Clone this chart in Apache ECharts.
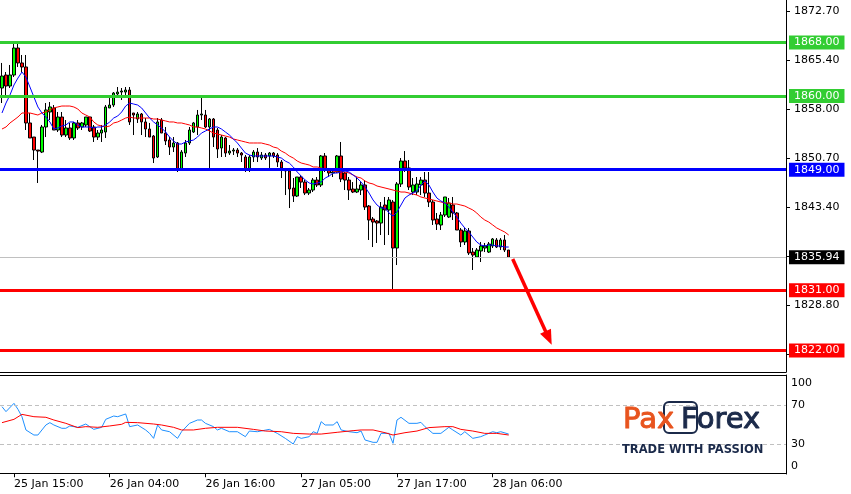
<!DOCTYPE html>
<html><head><meta charset="utf-8">
<script src="https://cdn.jsdelivr.net/npm/echarts@6/dist/echarts.min.js"></script>
<style>html,body{margin:0;padding:0;background:#fff}#c{width:851px;height:494px}</style>
</head><body><div id="c"></div>
<script>
// ---- data: [open, close, low, high] per bar ----
const candles = [
[1861.20,1862.99,1858.96,1864.94],[1863.14,1861.50,1859.71,1863.59],[1861.50,1863.14,1861.20,1864.64],[1863.14,1867.17,1862.84,1867.77],
[1867.17,1864.94,1864.34,1867.77],[1864.94,1864.34,1863.59,1866.13],[1864.34,1855.98,1854.93,1866.13],[1855.98,1853.74,1853.74,1857.47],
[1853.88,1851.94,1850.45,1853.88],[1851.94,1851.79,1847.02,1851.94],[1851.64,1855.38,1851.49,1855.68],[1855.38,1857.92,1853.88,1858.96],
[1857.62,1858.37,1856.42,1859.11],[1858.22,1854.93,1854.93,1858.66],[1854.93,1856.87,1854.63,1857.62],[1856.87,1854.18,1853.88,1857.62],
[1854.18,1855.23,1853.88,1856.42],[1855.23,1853.74,1853.44,1855.98],[1853.74,1855.98,1853.44,1856.13],[1855.98,1855.23,1854.93,1856.42],
[1855.38,1855.98,1854.93,1856.13],[1855.68,1856.87,1855.38,1856.87],[1856.87,1854.78,1854.63,1856.87],[1855.38,1853.88,1853.14,1855.68],
[1853.88,1854.48,1853.44,1854.93],[1854.48,1854.93,1853.14,1855.68],[1854.63,1858.37,1853.74,1858.66],[1858.22,1858.66,1858.22,1859.71],
[1858.66,1860.45,1858.37,1860.60],[1860.31,1860.60,1859.86,1861.35],[1860.60,1860.75,1859.41,1861.20],[1860.60,1860.90,1860.16,1861.35],
[1860.90,1856.13,1855.68,1861.35],[1857.47,1857.17,1854.18,1857.47],[1856.57,1857.32,1855.98,1857.62],[1857.32,1856.13,1854.18,1857.47],
[1856.13,1855.08,1853.88,1856.72],[1855.08,1853.88,1853.88,1855.98],[1854.03,1850.75,1850.00,1854.18],[1850.90,1856.13,1850.75,1856.72],
[1856.42,1854.48,1854.48,1856.72],[1854.48,1853.29,1852.69,1855.38],[1853.44,1852.39,1851.20,1853.88],[1852.39,1852.99,1851.64,1853.88],
[1852.99,1849.11,1848.66,1853.14],[1849.11,1851.64,1848.96,1851.94],[1851.49,1852.99,1850.90,1853.44],[1852.99,1854.93,1852.69,1855.38],
[1854.63,1855.98,1854.48,1856.13],[1855.38,1857.17,1854.18,1857.92],[1857.17,1857.32,1856.42,1859.86],[1857.17,1855.38,1855.23,1857.92],
[1855.38,1856.57,1849.26,1856.72],[1856.57,1853.88,1852.39,1856.72],[1854.93,1852.09,1850.75,1855.23],[1852.24,1853.88,1850.90,1854.18],
[1853.74,1851.49,1850.90,1853.88],[1851.49,1851.79,1851.20,1852.69],[1851.79,1851.94,1851.20,1852.24],[1851.94,1851.49,1850.90,1852.24],
[1851.49,1851.20,1850.15,1851.64],[1850.90,1848.96,1848.66,1851.20],[1848.96,1850.90,1848.66,1851.20],[1850.90,1851.64,1850.15,1851.94],
[1851.64,1850.90,1850.15,1852.24],[1850.75,1851.20,1850.45,1851.64],[1851.20,1850.75,1850.45,1851.49],[1851.05,1851.49,1849.26,1851.64],
[1851.49,1851.05,1850.75,1851.64],[1851.20,1850.15,1849.41,1851.49],[1850.15,1849.26,1847.76,1850.45],[1848.96,1848.81,1845.22,1849.26],
[1848.81,1846.12,1843.28,1849.26],[1846.27,1845.07,1844.18,1847.76],[1845.07,1847.91,1844.93,1847.91],[1847.91,1847.16,1846.27,1848.21],
[1847.16,1845.52,1845.22,1847.46],[1845.52,1845.97,1845.22,1846.27],[1845.97,1847.46,1845.67,1847.76],[1847.46,1846.72,1846.42,1847.91],
[1846.72,1851.05,1846.42,1851.20],[1851.05,1848.96,1848.66,1851.49],[1848.96,1848.51,1847.91,1849.26],[1848.51,1848.66,1847.91,1848.96],
[1848.66,1851.05,1848.51,1851.20],[1851.05,1847.61,1847.16,1853.14],[1848.51,1847.46,1845.97,1848.66],[1847.46,1845.97,1844.48,1847.91],
[1846.12,1845.67,1845.52,1847.16],[1845.67,1846.12,1845.52,1847.91],[1845.97,1846.72,1845.22,1847.16],[1846.72,1843.43,1842.99,1847.46],
[1843.58,1841.49,1838.51,1843.73],[1841.64,1841.19,1837.46,1841.94],[1841.34,1841.04,1838.06,1841.49],[1841.04,1843.43,1839.25,1844.18],
[1843.73,1842.99,1837.76,1844.93],[1842.99,1844.48,1839.25,1844.93],[1844.18,1837.31,1831.04,1844.48],[1837.31,1846.87,1834.77,1847.16],
[1846.87,1850.30,1846.42,1850.75],[1850.30,1849.26,1848.66,1851.79],[1849.26,1846.42,1845.97,1850.45],[1845.67,1846.72,1845.22,1847.76],
[1845.67,1846.87,1845.22,1847.91],[1846.72,1847.46,1845.22,1847.91],[1847.46,1845.52,1844.93,1848.66],[1845.52,1844.18,1843.43,1848.66],
[1844.18,1841.49,1840.75,1844.48],[1841.64,1840.89,1840.00,1842.54],[1840.75,1842.24,1840.00,1842.69],[1842.24,1844.93,1841.94,1844.93],
[1841.94,1844.03,1841.79,1844.78],[1843.73,1842.54,1841.49,1844.93],[1842.54,1840.00,1840.00,1842.69],[1840.00,1838.21,1837.46,1840.30],
[1838.21,1839.85,1837.76,1840.30],[1839.85,1836.57,1836.27,1840.30],[1836.71,1836.27,1834.03,1837.31],[1835.97,1837.01,1835.97,1837.31],
[1836.87,1837.61,1835.22,1838.21],[1837.31,1837.61,1836.71,1838.06],[1836.71,1837.91,1836.57,1838.21],[1837.61,1838.66,1837.31,1838.80],
[1838.51,1837.46,1837.31,1838.80],[1837.46,1838.51,1837.01,1838.80],[1838.51,1837.01,1836.71,1839.25],[1837.01,1835.94,1835.94,1837.01]
];
const maFast = [1857.47,1858.96,1860.16,1861.65,1862.69,1863.59,1862.84,1861.35,1859.86,1858.37,
1857.47,1856.87,1856.13,1855.08,1855.23,1855.53,1855.68,1856.13,1856.13,1855.68,
1855.38,1855.38,1855.38,1855.23,1855.38,1855.38,1855.68,1856.13,1856.72,1857.02,
1857.62,1858.51,1858.96,1858.81,1858.66,1858.22,1857.47,1856.72,1856.13,1855.68,
1855.23,1854.63,1853.88,1853.29,1852.84,1852.84,1853.14,1853.29,1853.44,1853.88,
1854.48,1854.78,1855.08,1855.38,1855.38,1855.08,1854.63,1854.18,1853.59,1852.99,
1852.24,1851.49,1851.20,1851.05,1851.05,1851.05,1851.05,1851.05,1851.05,1850.90,
1850.75,1850.30,1850.00,1849.41,1848.66,1848.06,1847.46,1847.02,1846.87,1847.02,
1847.16,1847.76,1848.06,1848.51,1848.51,1848.66,1848.81,1848.66,1848.21,1847.76,
1847.16,1846.42,1845.52,1844.48,1843.73,1843.28,1843.28,1842.54,1842.09,1842.69,
1843.73,1844.78,1845.22,1845.52,1845.82,1846.72,1847.31,1846.72,1845.67,1844.78,
1844.33,1844.03,1843.43,1842.69,1841.94,1841.04,1840.30,1839.70,1838.95,1838.21,
1837.76,1837.61,1837.76,1837.76,1837.61,1837.61,1837.46,1837.46];
const maSlow = [1855.08,1855.38,1855.98,1856.42,1856.87,1857.47,1857.47,1857.47,1857.32,1857.17,
1857.47,1857.62,1857.92,1858.22,1858.37,1858.51,1858.51,1858.51,1858.37,1858.07,
1857.47,1857.17,1856.87,1856.13,1855.68,1855.53,1855.38,1855.53,1855.98,1856.13,
1856.42,1856.72,1856.87,1856.72,1856.72,1856.72,1856.72,1856.72,1856.57,1856.57,
1856.42,1856.28,1856.13,1856.13,1855.98,1855.98,1855.83,1855.68,1855.38,1855.38,
1855.23,1855.08,1854.78,1854.48,1854.33,1854.18,1854.03,1853.88,1853.59,1853.44,
1853.29,1853.14,1852.99,1852.99,1852.99,1852.99,1852.84,1852.69,1852.39,1852.24,
1851.79,1851.49,1851.05,1850.75,1850.30,1850.00,1849.85,1849.70,1849.41,1849.41,
1849.26,1849.11,1848.96,1848.81,1848.66,1848.66,1848.66,1848.51,1848.21,1847.91,
1847.76,1847.31,1847.02,1846.87,1846.57,1846.42,1846.27,1846.12,1845.97,1845.82,
1845.67,1845.67,1845.52,1845.37,1845.22,1844.93,1844.78,1844.63,1844.48,1844.33,
1844.18,1844.03,1844.03,1843.88,1843.88,1843.73,1843.58,1843.28,1842.99,1842.54,
1841.94,1841.49,1841.19,1840.75,1840.30,1840.00,1839.70,1839.25];
// oscillator readings: [bar index, value]
const oscMain = [[0,68.3],[1,63.2],[3,71.7],[4,65.6],[5,58.0],[6,44.4],[8,39.2],[9,39.2],[11,49.5],[12,51.9],[13,49.5],[15,46.1],[16,46.1],[17,48.5],[19,47.1],[21,50.5],[23,45.0],[25,47.1],[26,55.3],[28,58.7],[29,58.0],[31,60.8],[32,47.8],[34,49.5],[36,44.4],[37,40.9],[38,35.8],[39,49.5],[40,44.4],[42,42.6],[44,35.8],[45,42.6],[47,51.2],[49,54.6],[50,54.6],[51,51.2],[53,47.8],[54,44.4],[55,46.1],[57,42.6],[59,42.6],[61,37.5],[62,43.3],[64,42.6],[67,45.0],[69,40.9],[71,35.8],[73,30.0],[74,37.5],[75,35.8],[77,37.5],[78,42.6],[79,40.9],[80,52.9],[81,49.5],[83,49.5],[84,52.9],[85,44.4],[87,42.6],[89,41.6],[90,43.3],[91,34.1],[93,31.7],[94,31.7],[95,40.9],[97,40.9],[98,30.7],[99,54.6],[100,57.4],[102,51.2],[104,51.2],[105,52.2],[106,47.8],[108,40.9],[110,40.9],[112,47.1],[113,44.4],[115,39.2],[116,42.6],[118,35.8],[120,37.5],[121,39.2],[123,42.6],[124,41.6],[125,42.6],[127,40.2]];
const oscSignal = [[0,51.9],[3,55.3],[5,60.4],[8,58.0],[11,57.4],[13,54.6],[16,51.2],[19,46.8],[21,47.8],[24,47.1],[27,48.5],[30,50.2],[31,52.2],[34,51.9],[38,50.5],[40,49.5],[43,47.1],[45,44.4],[48,44.4],[51,46.1],[54,47.1],[59,47.1],[63,45.0],[66,43.3],[70,42.6],[73,40.9],[77,40.2],[80,40.2],[84,42.0],[88,43.7],[90,44.4],[93,44.4],[96,41.6],[98,39.2],[101,41.6],[104,43.3],[107,46.8],[111,47.8],[113,47.8],[115,45.0],[118,43.3],[121,40.9],[124,40.9],[127,39.2]];
const timeTickIndex = [3,27,51,75,99,123];
const timeTickLabels = ['25 Jan 15:00','26 Jan 04:00','26 Jan 16:00','27 Jan 05:00','27 Jan 17:00','28 Jan 06:00'];
const priceTicks = [1872.70,1865.40,1858.00,1850.70,1843.40,1836.10,1828.80,1821.50];
const levelValues = [1868.00,1860.00,1849.00,1831.00,1822.00];
const levelColors = ['#32cd32','#32cd32','#0000ff','#ff0000','#ff0000'];
const lastPrice = 1835.94;
const arrowFrom = [128,1835.67];
const arrowTo = [137,1823.87];
const oscTicks = [0,30,70,100];
const oscLevels = [30,70];
const barSlots = 197;

const FONT = 'DejaVu Sans';
const cats = Array.from({length: barSlots}, (_, i) => String(i));
const tickSet = new Set(timeTickIndex);
const tickFn = (idx) => tickSet.has(idx);

const levelLines = levelValues.map((v, i) => ({
  yAxis: v,
  lineStyle: {color: levelColors[i], width: 3, type: 'solid'},
  label: {backgroundColor: levelColors[i]}
}));
levelLines.push({yAxis: lastPrice, lineStyle: {color: '#c0c0c0', width: 1, type: 'solid'}, label: {backgroundColor: '#000'}});

const chart = echarts.init(document.getElementById('c'), null, {renderer: 'canvas'});
chart.setOption({
  animation: false,
  backgroundColor: '#fff',
  textStyle: {fontFamily: FONT},
  grid: [
    {left: -2, top: 0, width: 788, height: 372},
    {left: -2, top: 375, width: 788, height: 99}
  ],
  xAxis: [
    {type: 'category', gridIndex: 0, data: cats, boundaryGap: true,
     axisLine: {lineStyle: {color: '#000', width: 1}}, axisTick: {show: false}, axisLabel: {show: false}, splitLine: {show: false}},
    {type: 'category', gridIndex: 1, data: cats, boundaryGap: true, position: 'bottom',
     axisLine: {lineStyle: {color: '#000', width: 1}},
     axisTick: {show: true, alignWithLabel: true, interval: tickFn, length: 4, lineStyle: {color: '#000'}},
     axisLabel: {interval: tickFn, align: 'left', margin: 5, color: '#000', fontFamily: FONT, fontSize: 11,
       formatter: (v) => timeTickLabels[timeTickIndex.indexOf(Number(v))] || ''},
     splitLine: {show: false}},
    {type: 'category', gridIndex: 1, data: cats, boundaryGap: true, position: 'top',
     axisLine: {lineStyle: {color: '#000', width: 1}}, axisTick: {show: false}, axisLabel: {show: false}, splitLine: {show: false}}
  ],
  yAxis: [
    {type: 'value', gridIndex: 0, position: 'right', min: 1818.80, max: 1874.34, scale: true,
     axisLine: {show: true, lineStyle: {color: '#000'}},
     axisTick: {show: true, length: 4, customValues: priceTicks, lineStyle: {color: '#000'}},
     axisLabel: {customValues: priceTicks, formatter: (v) => Number(v).toFixed(2), margin: 8, color: '#000', fontFamily: FONT, fontSize: 11},
     splitLine: {show: false}},
    {type: 'value', gridIndex: 1, position: 'right', min: -0.77, max: 100.77,
     axisLine: {show: true, lineStyle: {color: '#000'}},
     axisTick: {show: false},
     axisLabel: {customValues: oscTicks, margin: 5, color: '#000', fontFamily: FONT, fontSize: 11,
       formatter: (v) => v === 100 ? '{a|100}' : (v === 0 ? '{b|0}' : String(v)),
       rich: {a: {padding: [14, 0, 0, 0], fontFamily: FONT, fontSize: 11, color: '#000'},
              b: {padding: [0, 0, 14, 0], fontFamily: FONT, fontSize: 11, color: '#000'}}},
     splitLine: {show: false}}
  ],
  series: [
    {type: 'candlestick', xAxisIndex: 0, yAxisIndex: 0, data: candles, barWidth: 3, z: 2,
     itemStyle: {color: '#00ff00', color0: '#ff0000', borderColor: '#000', borderColor0: '#000', borderWidth: 1}},
    {type: 'line', xAxisIndex: 0, yAxisIndex: 0, data: maSlow, symbol: 'none', z: 3,
     lineStyle: {color: '#ff0000', width: 1}},
    {type: 'line', xAxisIndex: 0, yAxisIndex: 0, data: maFast, symbol: 'none', z: 4, clip: false,
     lineStyle: {color: '#0000ff', width: 1},
     markLine: {silent: true, symbol: 'none', animation: false,
       label: {show: true, position: 'end', distance: 3, color: '#fff', fontFamily: FONT, fontSize: 11,
         padding: [2, 5, 1, 5], formatter: (p) => Number(p.value).toFixed(2)},
       data: levelLines}},
    {type: 'line', xAxisIndex: 0, yAxisIndex: 0, data: [], symbol: 'none', z: 5,
     markLine: {silent: true, animation: false, symbol: ['none', 'triangle'], symbolSize: [12, 15],
       label: {show: false}, lineStyle: {color: '#ff0000', width: 3.5, type: 'solid'},
       data: [[{coord: arrowFrom}, {coord: arrowTo}]]}},
    {type: 'line', xAxisIndex: 1, yAxisIndex: 1, data: oscMain, symbol: 'none', z: 3,
     lineStyle: {color: '#1e90ff', width: 1},
     markLine: {silent: true, symbol: 'none', label: {show: false}, animation: false,
       lineStyle: {color: '#c0c0c0', width: 1, type: [4, 3]},
       data: oscLevels.map(v => ({yAxis: v}))}},
    {type: 'line', xAxisIndex: 1, yAxisIndex: 1, data: oscSignal, symbol: 'none', z: 4,
     lineStyle: {color: '#ff0000', width: 1}}
  ],
  graphic: [
    {type: 'rect', z: 20, shape: {x: 664, y: 402, width: 33, height: 31, r: 5},
     style: {fill: 'none', stroke: '#1b2a4a', lineWidth: 2}},
    {type: 'text', z: 21, x: 623, y: 420,
     style: {text: 'Pax', fill: '#e8541e', stroke: '#e8541e', lineWidth: 1, font: '29px "DejaVu Sans"', align: 'left', verticalAlign: 'middle'}},
    {type: 'text', z: 21, x: 681, y: 420,
     style: {text: 'Forex', fill: '#1b2a4a', stroke: '#1b2a4a', lineWidth: 1, font: '29px "DejaVu Sans"', align: 'left', verticalAlign: 'middle'}},
    {type: 'text', z: 21, x: 622, y: 450,
     style: {text: 'TRADE WITH PASSION', fill: '#1b2a4a', font: 'bold 11.5px "DejaVu Sans"', align: 'left', verticalAlign: 'middle'}}
  ]
});
</script></body></html>
